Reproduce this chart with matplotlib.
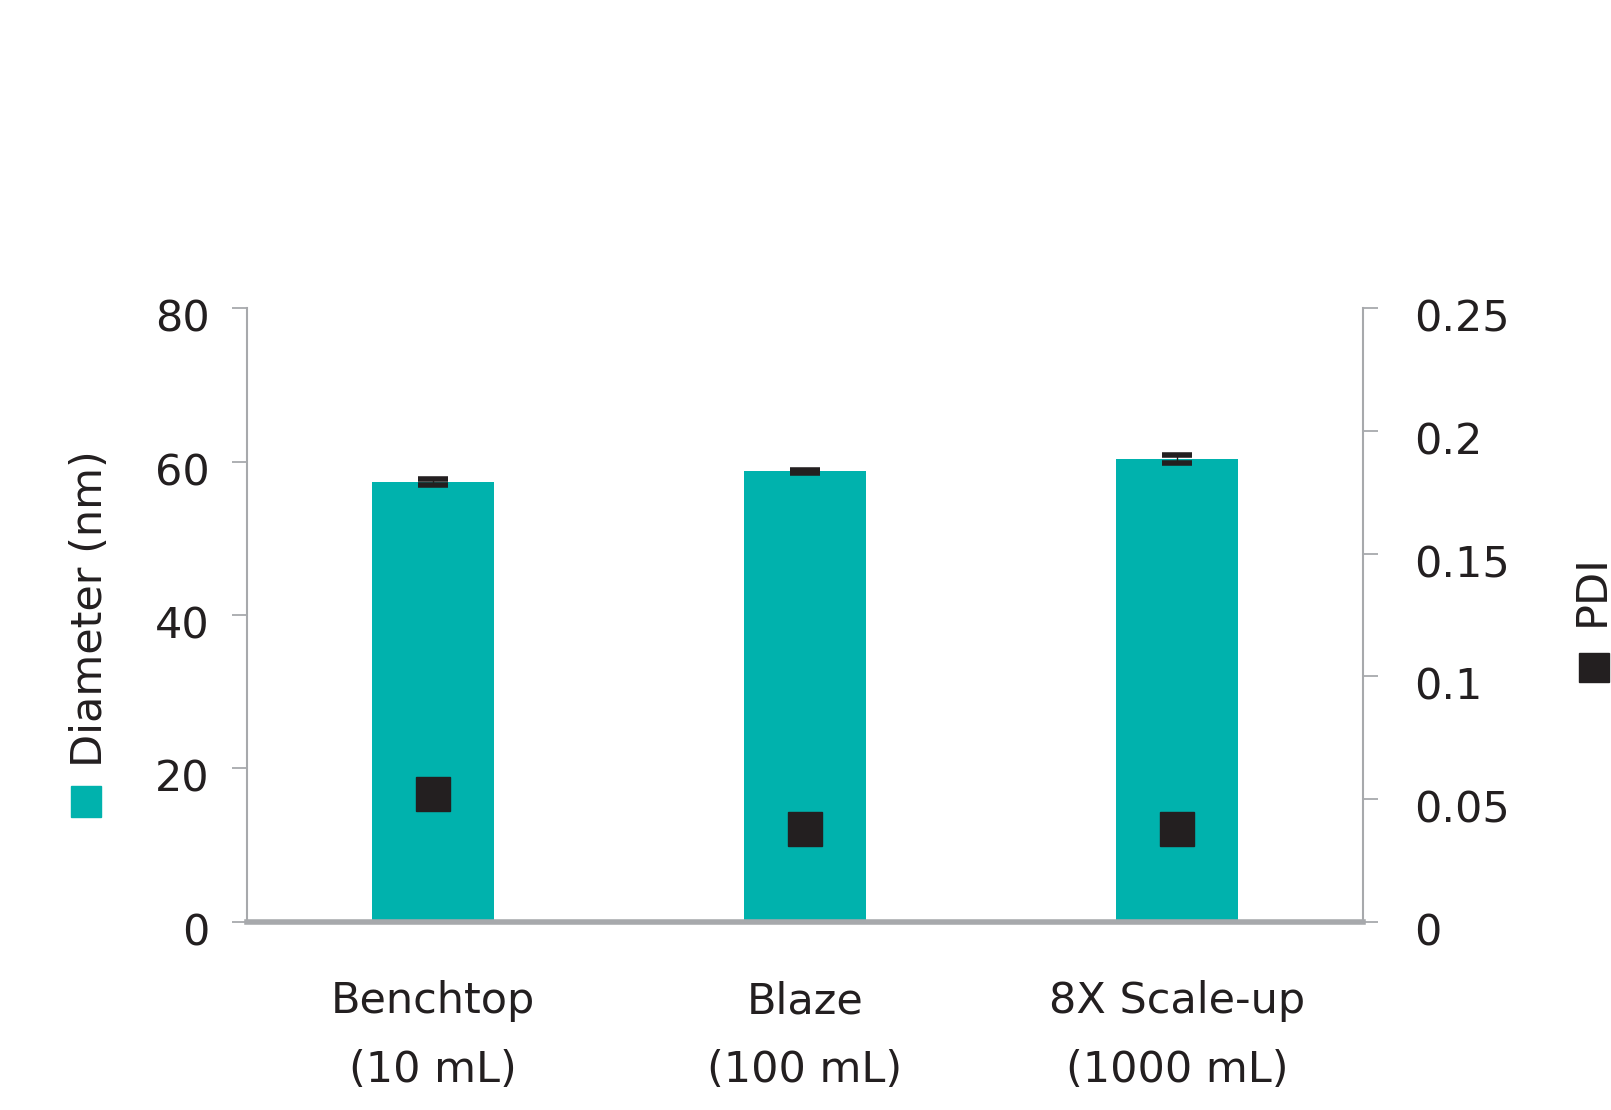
import matplotlib.pyplot as plt
import numpy as np
from matplotlib.patches import Rectangle
from matplotlib.transforms import ScaledTranslation

categories = ['Benchtop\n(10 mL)', 'Blaze\n(100 mL)', '8X Scale-up\n(1000 mL)']
diameter = [57.3, 58.7, 60.3]
diameter_err = [0.4, 0.2, 0.5]
pdi = [0.052, 0.038, 0.038]
left_ticks = [0, 20, 40, 60, 80]
right_ticks = [0, 0.05, 0.1, 0.15, 0.2, 0.25]
right_labels = ['0', '0.05', '0.1', '0.15', '0.2', '0.25']

teal = '#00b2ad'
dark = '#231f20'
grey = '#a7a9ac'

plt.rcParams['font.family'] = ['DejaVu Sans']
fs = 31

fig = plt.figure(figsize=(16.11, 11.10), dpi=100)
ax = fig.add_axes([0.1533, 0.1694, 0.6927, 0.5531])
x = np.arange(len(categories)) + 0.5

ax.bar(x, diameter, 0.33, color=teal, zorder=2)
ax.errorbar(x, diameter, yerr=diameter_err, fmt='none', ecolor=dark,
            elinewidth=1, capsize=11, capthick=4, zorder=3)
ax.set_xlim(0, 3)
ax.set_ylim(0, 80)
ax.set_yticks(left_ticks)
ax.set_xticks(x)
ax.set_xticklabels(categories, fontsize=fs, color=dark, linespacing=1.8)
ax.tick_params(axis='x', length=0, pad=42)
ax.tick_params(axis='y', length=11, width=1.3, color=grey, labelsize=fs,
               labelcolor=dark, pad=16)
for s in ['top', 'right']:
    ax.spines[s].set_visible(False)
ax.spines['left'].set_color(grey)
ax.spines['left'].set_linewidth(1.5)
ax.spines['bottom'].set_color(grey)
ax.spines['bottom'].set_linewidth(4)
ax.spines['bottom'].set_zorder(5)

ax2 = ax.twinx()
ax2.plot(x, pdi, 's', color=dark, markersize=25, zorder=4)
ax2.set_ylim(0, 0.25)
ax2.set_yticks(right_ticks)
ax2.set_yticklabels(right_labels)
ax2.tick_params(axis='y', length=11, width=1.3, color=grey, labelsize=fs,
                labelcolor=dark, pad=26)
for s in ['top', 'left', 'bottom']:
    ax2.spines[s].set_visible(False)
ax2.spines['right'].set_color(grey)
ax2.spines['right'].set_linewidth(1.5)

shift = ScaledTranslation(0, -7 / 100, fig.dpi_scale_trans)
for lab in ax.get_yticklabels() + ax2.get_yticklabels():
    lab.set_transform(lab.get_transform() + shift)

fig.text(0.056, 0.452, 'Diameter (nm)', rotation=90, ha='center', va='center',
         fontsize=fs, color=dark)
fig.add_artist(Rectangle((0.044, 0.264), 0.019, 0.028, color=teal,
                         transform=fig.transFigure))
fig.text(0.988, 0.468, 'PDI', rotation=90, ha='center', va='center',
         fontsize=fs, color=dark)
fig.add_artist(Rectangle((0.980, 0.386), 0.019, 0.026, color=dark,
                         transform=fig.transFigure))

fig.savefig('out.png', dpi=100)
